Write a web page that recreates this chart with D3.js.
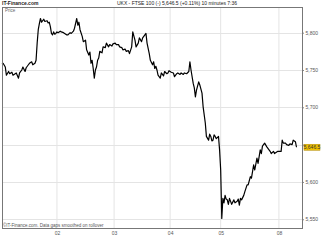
<!DOCTYPE html>
<html>
<head>
<meta charset="utf-8">
<script src="https://cdn.jsdelivr.net/npm/d3@7"></script>
<style>
body { margin: 0; background: #fff; }
text { font-family: "Liberation Sans", Arial, sans-serif; }
</style>
</head>
<body>
<svg id="chart" width="323" height="242"></svg>
<script>
// 10 minute bars, index from first bar on screen
var bars = [0, 1, 3, 4, 6, 7, 9, 10, 12, 13, 15, 16, 18, 19, 21, 22, 24, 25, 27, 28, 30, 31, 32, 33, 34, 35, 36, 38, 39, 41, 42, 43, 44, 45, 46, 47, 48, 49, 50,
    51, 53, 54, 56, 57, 59, 60, 62, 63, 65, 66, 68, 69, 70, 71, 73, 74, 76, 77, 79, 80, 81, 82, 83, 84, 85, 86, 87, 88, 89, 91, 92, 94, 95, 97, 98, 100, 101,
    103, 104, 106, 107, 109, 110, 112, 113, 115, 116, 118, 119, 121, 122, 124, 125, 127, 128, 129, 131, 132, 134, 135, 137, 138, 139, 140, 141, 142, 144, 145, 147, 148, 150, 151, 152,
    153, 154, 156, 157, 159, 160, 162, 163, 165, 166, 168, 170, 171, 172, 174, 175, 176, 177, 179, 180, 182, 183, 185, 186, 188, 189, 190, 191, 192, 193, 194, 195, 197, 198,
    199, 200, 201, 202, 203, 204, 205, 206, 207, 208, 209, 211, 212, 214, 215, 216, 217, 218, 220, 221, 223, 224, 226, 227, 229, 230, 232, 233, 235, 236, 237, 239, 241, 242, 244, 245, 247, 248, 250, 251,
    254, 255, 256, 258, 259, 261, 262, 264, 265, 267, 268];
var prices = [5758, 5759, 5754, 5743, 5748, 5745, 5747, 5743, 5745, 5746, 5739, 5746, 5750, 5754, 5748, 5753, 5757, 5759, 5761, 5757, 5759, 5763, 5786, 5804, 5812, 5819, 5814, 5818, 5815, 5816, 5813, 5814, 5808, 5799, 5797, 5801, 5798, 5799, 5801,
    5800, 5802, 5801, 5800, 5799, 5797, 5797, 5800, 5799, 5802, 5806, 5819, 5810, 5814, 5804, 5795, 5788, 5790, 5777, 5770, 5774, 5759, 5763, 5752, 5739, 5750, 5754, 5763, 5766, 5775, 5773, 5781, 5780, 5786, 5781, 5784, 5782, 5785,
    5786, 5784, 5784, 5781, 5780, 5777, 5778, 5775, 5776, 5772, 5781, 5801, 5790, 5781, 5786, 5793, 5788, 5793, 5795, 5799, 5786, 5772, 5763, 5757, 5761, 5752, 5755, 5750, 5743, 5739, 5746, 5742, 5748, 5745, 5746, 5749,
    5748, 5747, 5746, 5741, 5745, 5746, 5744, 5746, 5744, 5746, 5745, 5748, 5761, 5750, 5732, 5726, 5714, 5723, 5734, 5730, 5719, 5701, 5679, 5661, 5656, 5664, 5661, 5655, 5656, 5663, 5661, 5658, 5661, 5643,
    5616, 5551, 5578, 5572, 5582, 5577, 5576, 5570, 5578, 5574, 5570, 5576, 5572, 5574, 5577, 5569, 5578, 5576, 5582, 5587, 5596, 5596, 5607, 5605, 5623, 5616, 5632, 5625, 5643, 5638, 5648, 5652, 5647, 5645, 5641, 5638, 5641, 5638, 5640, 5641,
    5641, 5656, 5652, 5652, 5650, 5649, 5651, 5650, 5656, 5654, 5646.5];
var dayTicks = [50, 102, 153, 199, 252];
var dayLabels = ["02", "03", "04", "05", "08"];
var priceTicks = [5550, 5600, 5650, 5700, 5750, 5800];
var lastPrice = 5646.5;
var title = "UKX - FTSE 100 (-)   5,646.5 (+0.11%)   10 minutes   7:36";

var svg = d3.select("#chart"),
    margin = {
        top: 7,
        right: 21,
        bottom: 14,
        left: 2
    },
    width = +svg.attr("width") - margin.left - margin.right,
    height = +svg.attr("height") - margin.top - margin.bottom;

var x = d3.scaleLinear().domain([0, 273]).range([0, width]);
var y = d3.scaleLinear().domain([5538.3, 5834.4]).range([height, 0]);

var g = svg.append("g")
    .attr("transform", "translate(" + margin.left + "," + margin.top + ")");

// grid
g.append("g")
    .selectAll("line.vg")
    .data(dayTicks)
    .enter().append("line")
    .attr("x1", function (d) { return x(d); })
    .attr("x2", function (d) { return x(d); })
    .attr("y1", 0).attr("y2", height)
    .attr("stroke", "#e4e4e4").attr("stroke-width", 1);
g.append("g")
    .selectAll("line.hg")
    .data(priceTicks)
    .enter().append("line")
    .attr("x1", 0).attr("x2", width)
    .attr("y1", function (d) { return Math.round(y(d)) + 0.5; })
    .attr("y2", function (d) { return Math.round(y(d)) + 0.5; })
    .attr("stroke", "#e4e4e4").attr("stroke-width", 1);

// axes (label under the last value box is hidden, as in the original)
var fmt = d3.format(",");
var yAxis = g.append("g")
    .attr("transform", "translate(" + width + ",0)")
    .call(d3.axisRight(y).tickValues(priceTicks).tickSize(2).tickPadding(1.5)
        .tickFormat(function (d) { return Math.abs(d - lastPrice) < 10 ? "" : fmt(d); }));
var xAxis = g.append("g")
    .attr("transform", "translate(0," + height + ")")
    .call(d3.axisBottom(x).tickValues(dayTicks).tickSize(0).tickPadding(3).tickFormat(function (d, i) { return dayLabels[i]; }));
[yAxis, xAxis].forEach(function (a) {
    a.select(".domain").remove();
    a.selectAll("line").attr("stroke", "#888");
    a.selectAll("text").attr("fill", "#555").style("font-size", "5px");
});

// price line
var line = d3.line()
    .x(function (d, i) { return x(bars[i]); })
    .y(function (d) { return y(d); });
g.append("path")
    .datum(prices)
    .attr("fill", "none")
    .attr("stroke", "#000")
    .attr("stroke-width", 1.2)
    .attr("stroke-linejoin", "round")
    .attr("d", line);

// frame
g.append("rect")
    .attr("x", 0.5).attr("y", 0.5)
    .attr("width", width).attr("height", height)
    .attr("fill", "none")
    .attr("stroke", "#777")
    .attr("stroke-width", 1);

// last value box
var ly = y(lastPrice);
g.append("rect")
    .attr("x", width + 2).attr("y", ly - 3)
    .attr("width", 16).attr("height", 6)
    .attr("fill", "#f2c200")
    .attr("stroke", "#b08800").attr("stroke-width", 0.5);
g.append("text")
    .attr("x", width + 10).attr("y", ly + 1.8)
    .attr("text-anchor", "middle")
    .style("font-size", "5px")
    .attr("fill", "#333")
    .text(d3.format(",.1f")(lastPrice));

// labels
g.append("text")
    .attr("x", 3).attr("y", 5)
    .style("font-size", "4.5px")
    .attr("fill", "#666")
    .text("Price");
g.append("text")
    .attr("x", 1).attr("y", height - 1.5)
    .style("font-size", "4.5px")
    .attr("fill", "#555")
    .text("\u00a9IT-Finance.com. Data gaps smoothed on rollover");

svg.append("text")
    .attr("x", 2).attr("y", 5)
    .style("font-size", "5px")
    .style("font-weight", "bold")
    .attr("fill", "#222")
    .text("IT-Finance.com");
svg.append("text")
    .attr("x", 177).attr("y", 5)
    .attr("text-anchor", "middle")
    .style("font-size", "5px")
    .attr("fill", "#222")
    .text(title);
</script>
</body>
</html>
